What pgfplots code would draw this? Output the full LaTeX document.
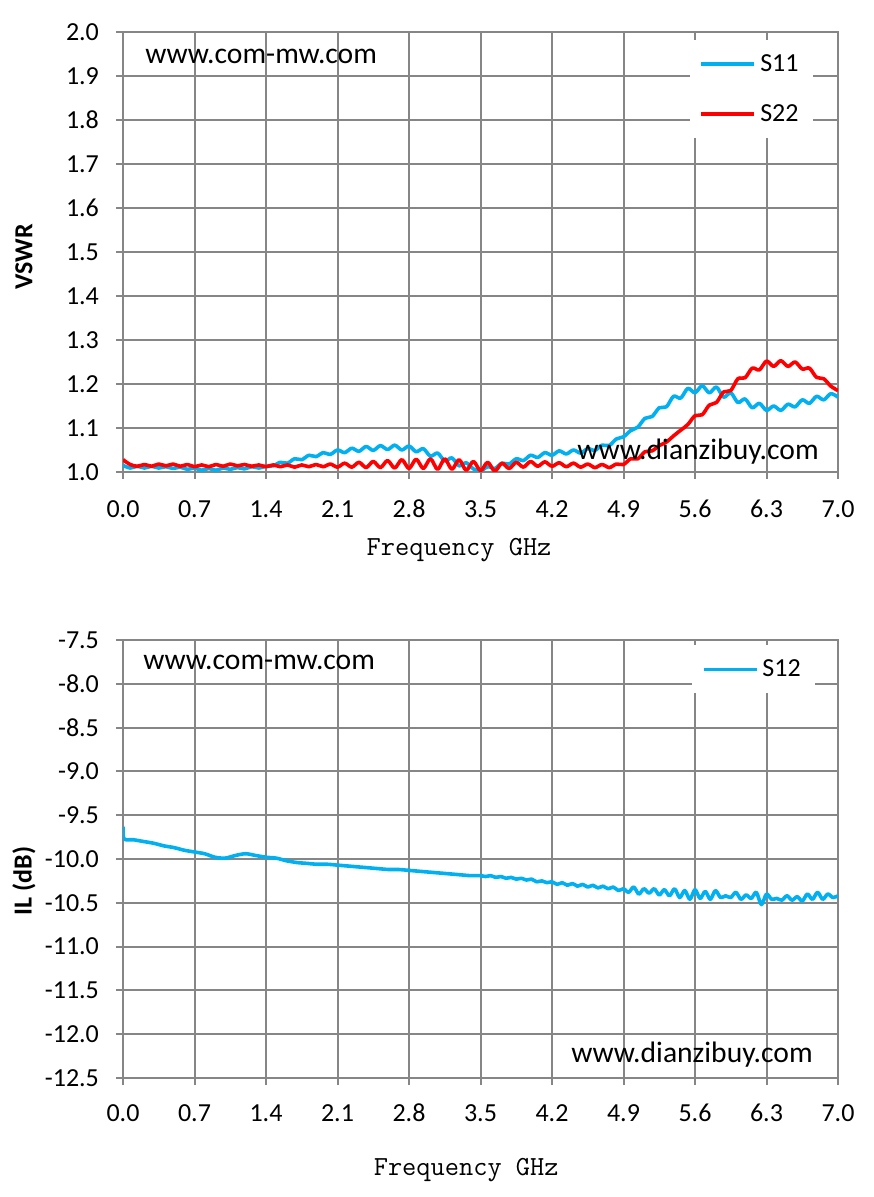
\documentclass[border=0pt]{standalone}
\usepackage{graphicx}
\usepackage{pgfplots}
\pgfplotsset{compat=1.18}
\usepackage{pgfplotstable}
\usepackage{fontspec}
\setmainfont{Carlito}
\definecolor{gridgray}{RGB}{134,134,134}
\definecolor{sblue}{RGB}{0,176,240}
\definecolor{sred}{RGB}{255,0,0}

\pgfplotstableread{
x s11 s22
0.00 1.015 1.028
0.07 1.009 1.017
0.14 1.013 1.013
0.21 1.009 1.017
0.28 1.013 1.013
0.35 1.009 1.018
0.42 1.012 1.014
0.49 1.008 1.018
0.56 1.011 1.013
0.63 1.006 1.017
0.70 1.009 1.012
0.77 1.004 1.016
0.84 1.008 1.012
0.91 1.004 1.017
0.98 1.009 1.013
1.05 1.006 1.018
1.12 1.010 1.014
1.19 1.007 1.017
1.26 1.012 1.013
1.33 1.009 1.016
1.40 1.013 1.012
1.47 1.014 1.016
1.54 1.022 1.012
1.61 1.020 1.016
1.68 1.030 1.011
1.75 1.028 1.016
1.82 1.038 1.012
1.89 1.035 1.017
1.96 1.044 1.012
2.03 1.040 1.018
2.10 1.050 1.011
2.17 1.044 1.020
2.24 1.054 1.011
2.31 1.047 1.022
2.38 1.058 1.010
2.45 1.049 1.024
2.52 1.060 1.010
2.59 1.051 1.026
2.66 1.061 1.009
2.73 1.050 1.028
2.80 1.059 1.008
2.87 1.046 1.029
2.94 1.053 1.008
3.01 1.036 1.030
3.08 1.043 1.006
3.15 1.025 1.030
3.22 1.032 1.006
3.29 1.014 1.028
3.36 1.021 1.004
3.43 1.007 1.024
3.50 1.002 1.003
3.57 1.012 1.022
3.64 1.008 1.002
3.71 1.020 1.020
3.78 1.018 1.008
3.85 1.030 1.022
3.92 1.026 1.011
3.99 1.038 1.024
4.06 1.033 1.013
4.13 1.044 1.023
4.20 1.038 1.013
4.27 1.048 1.021
4.34 1.041 1.012
4.41 1.050 1.020
4.48 1.043 1.011
4.55 1.053 1.018
4.62 1.049 1.010
4.69 1.061 1.017
4.76 1.060 1.010
4.83 1.075 1.018
4.90 1.080 1.017
4.97 1.094 1.030
5.04 1.102 1.030
5.11 1.122 1.046
5.18 1.126 1.048
5.25 1.146 1.060
5.32 1.148 1.068
5.39 1.172 1.082
5.46 1.168 1.095
5.53 1.190 1.108
5.60 1.180 1.128
5.67 1.196 1.130
5.74 1.180 1.152
5.81 1.193 1.158
5.88 1.170 1.182
5.95 1.180 1.185
6.02 1.158 1.212
6.09 1.166 1.214
6.16 1.146 1.236
6.23 1.156 1.232
6.30 1.140 1.252
6.37 1.150 1.240
6.44 1.140 1.253
6.51 1.154 1.240
6.58 1.148 1.250
6.65 1.164 1.234
6.72 1.156 1.236
6.79 1.172 1.215
6.86 1.164 1.212
6.93 1.178 1.195
7.00 1.170 1.185
}\vswrtable

\pgfplotstableread{
x s12
0.00 -9.63
0.01 -9.77
0.10 -9.78
0.20 -9.80
0.30 -9.82
0.40 -9.85
0.50 -9.87
0.60 -9.90
0.70 -9.92
0.80 -9.94
0.90 -9.98
1.00 -9.99
1.10 -9.96
1.20 -9.94
1.30 -9.96
1.40 -9.98
1.50 -9.99
1.60 -10.02
1.70 -10.04
1.80 -10.05
1.90 -10.06
2.00 -10.06
2.10 -10.07
2.20 -10.08
2.30 -10.09
2.40 -10.10
2.50 -10.11
2.60 -10.12
2.70 -10.12
2.80 -10.13
2.90 -10.14
3.00 -10.15
3.10 -10.16
3.20 -10.17
3.30 -10.18
3.40 -10.19
3.50 -10.19
3.55 -10.20
3.60 -10.19
3.65 -10.21
3.70 -10.20
3.75 -10.22
3.80 -10.21
3.85 -10.23
3.90 -10.22
3.95 -10.24
4.00 -10.23
4.05 -10.26
4.10 -10.25
4.15 -10.27
4.20 -10.26
4.25 -10.29
4.30 -10.27
4.35 -10.30
4.40 -10.28
4.45 -10.31
4.50 -10.29
4.55 -10.32
4.60 -10.30
4.65 -10.33
4.70 -10.31
4.75 -10.34
4.80 -10.32
4.85 -10.36
4.90 -10.34
4.95 -10.38
5.00 -10.32
5.05 -10.40
5.10 -10.34
5.15 -10.39
5.20 -10.34
5.25 -10.41
5.30 -10.35
5.35 -10.42
5.40 -10.34
5.45 -10.44
5.50 -10.36
5.55 -10.46
5.60 -10.35
5.65 -10.45
5.70 -10.37
5.75 -10.46
5.80 -10.36
5.85 -10.44
5.90 -10.42
5.95 -10.44
6.00 -10.38
6.05 -10.46
6.10 -10.41
6.15 -10.45
6.20 -10.38
6.25 -10.52
6.30 -10.40
6.35 -10.46
6.40 -10.45
6.45 -10.47
6.50 -10.42
6.55 -10.47
6.60 -10.43
6.65 -10.48
6.70 -10.40
6.75 -10.46
6.80 -10.38
6.85 -10.46
6.90 -10.40
6.95 -10.44
7.00 -10.42
}\iltable

\pgfplotsset{
  mystyle/.style={
    scale only axis, width=357.5pt,
    xmin=0, xmax=7,
    xtick={0,0.7,1.4,2.1,2.8,3.5,4.2,4.9,5.6,6.3,7.0},
    grid=major,
    grid style={gridgray, line width=1pt},
    axis line style={gridgray, line width=1pt},
    tick style={gridgray, line width=1pt},
    tick align=outside, tick pos=left, major tick length=3.5pt,
    /pgf/number format/fixed,
    /pgf/number format/fixed zerofill,
    /pgf/number format/precision=1,
    /pgf/number format/assume math mode=true,
    ticklabel style={font=\fontsize{13pt}{15pt}\selectfont, text=black},
    yticklabel style={xshift=-5pt},
    xlabel={Frequency GHz},
    xlabel style={font=\fontsize{13.8pt}{16pt}\ttfamily},
    ylabel style={font=\fontsize{13pt}{15pt}\selectfont\bfseries},
    legend style={draw=none, fill=white, anchor=north east,
      font=\fontsize{13pt}{15pt}\selectfont,
      inner xsep=5pt, inner ysep=5pt, row sep=11pt,
      cells={anchor=west}},
    legend image code/.code={\draw[#1] (0pt,0pt) -- (26.5pt,0pt);},
  },
  myline/.style={line width=1.8pt, line join=round, smooth, tension=0.5},
}

\begin{document}
\begin{tikzpicture}
\path[use as bounding box] (0,0) rectangle (436.5pt,598.5pt);

\begin{axis}[mystyle,
  at={(61.5pt,362.5pt)}, anchor=south west,
  height=220pt,
  ymin=1.0, ymax=2.0,
  ytick={1.0,1.1,1.2,1.3,1.4,1.5,1.6,1.7,1.8,1.9,2.0},
  xticklabel style={anchor=base, yshift=-19.5pt},
  xlabel style={at={(axis description cs:0.47,-0.1909)}, anchor=base},
  ylabel={VSWR},
  ylabel style={at={(axis description cs:-0.1385,0.489)}, anchor=center},
  legend style={at={(0.965,0.982)}},
]
\addplot[myline, sblue] table[x=x, y=s11] {\vswrtable};
\addlegendentry{S11}
\addplot[myline, sred] table[x=x, y=s22] {\vswrtable};
\addlegendentry{S22}
\end{axis}

\begin{axis}[mystyle,
  at={(61.5pt,59.5pt)}, anchor=south west,
  height=219pt,
  ymin=-12.5, ymax=-7.5,
  ytick={-12.5,-12.0,-11.5,-11.0,-10.5,-10.0,-9.5,-9.0,-8.5,-8.0,-7.5},
  xticklabel style={anchor=base, yshift=-18pt},
  xlabel style={at={(axis description cs:0.48,-0.2215)}, anchor=base},
  ylabel={IL (dB)},
  ylabel style={at={(axis description cs:-0.1385,0.45)}, anchor=center},
  legend style={at={(0.968,0.9886)}},
]
\addplot[myline, sblue] table[x=x, y=s12] {\iltable};
\addlegendentry{S12}
\end{axis}

\begin{scope}[every node/.style={inner sep=0pt, anchor=base west, font=\fontsize{14.8pt}{18pt}\selectfont}]
\node at (72.5pt,566.5pt) {www.com-mw.com};
\node at (288.5pt,368.5pt) {www.dianzibuy.com};
\node at (71.5pt,263.5pt) {www.com-mw.com};
\node at (285.5pt,67pt) {www.dianzibuy.com};
\end{scope}
\end{tikzpicture}
\end{document}
